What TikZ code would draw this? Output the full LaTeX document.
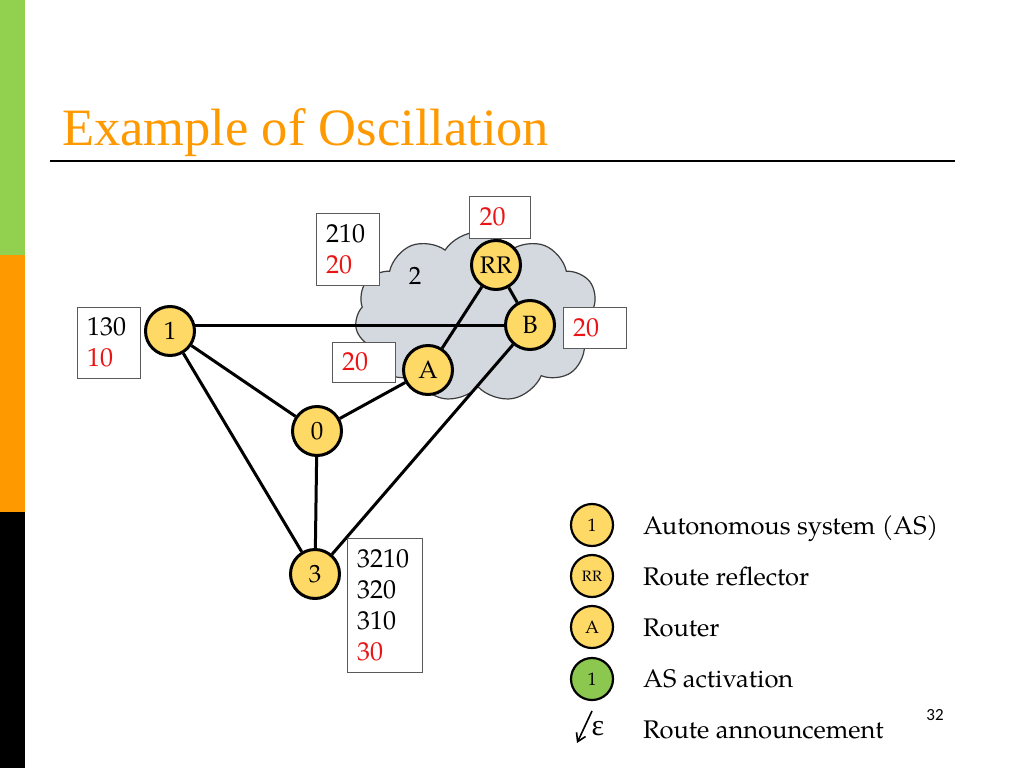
\documentclass[tikz,border=0pt]{standalone}
\usepackage{fontspec}
\setmainfont{TeX Gyre Pagella}
\newfontfamily\titlefont{Liberation Serif}
\newfontfamily\numfont{Carlito}
\usetikzlibrary{shapes.symbols,arrows.meta,backgrounds}
\definecolor{barGreen}{RGB}{146,208,80}
\definecolor{barOrange}{RGB}{255,153,0}
\definecolor{titleOrange}{RGB}{255,153,0}
\definecolor{nodeYellow}{RGB}{255,217,102}
\definecolor{actGreen}{RGB}{140,200,80}
\definecolor{cloudFill}{RGB}{212,217,224}
\definecolor{cloudLine}{RGB}{60,60,60}
\definecolor{boxLine}{RGB}{90,90,90}
\definecolor{numRed}{RGB}{235,20,20}
\tikzset{
  asnode/.style={circle, draw=black, line width=3pt, fill=nodeYellow, minimum size=49pt, inner sep=0pt, font=\fontsize{25}{25}\selectfont},
  legnode/.style={circle, draw=black, line width=2.2pt, fill=nodeYellow, minimum size=42pt, inner sep=0pt, font=\fontsize{18}{18}\selectfont},
  link/.style={line width=3pt, draw=black},
  infobox/.style={draw=boxLine, line width=1pt, fill=white, align=left, inner xsep=10pt, inner ysep=0pt, font=\fontsize{26}{31}\selectfont},
  legtext/.style={anchor=base west, inner sep=0pt, font=\fontsize{25.5}{25.5}\selectfont}
}
\begin{document}
\begin{tikzpicture}[x=1pt,y=-1pt]
\useasboundingbox (0,0) rectangle (1024,768);
% nodes
\node[asnode] (n1) at (170,331) {1};
\node[asnode] (n0) at (317,431) {0};
\node[asnode] (n3) at (315,574) {3};
\node[asnode] (nA) at (428,370) {A};
\node[asnode, font=\fontsize{24}{24}\selectfont] (nRR) at (496,265) {RR};
\node[asnode] (nB) at (530,325) {B};
\begin{scope}[on background layer]
\fill[white] (0,0) rectangle (1024,768);
% side bar
\fill[barGreen] (0,0) rectangle (25,255);
\fill[barOrange] (0,255) rectangle (25,512);
\fill[black] (0,512) rectangle (25,768);
% cloud
\node[cloud, cloud puffs=11, cloud puff arc=115, aspect=1.4, draw=cloudLine, line width=1.2pt, fill=cloudFill, minimum width=246pt, minimum height=170pt, inner sep=0pt] (cloud) at (478,317) {};
\node[inner sep=0pt, font=\fontsize{25}{25}\selectfont] (as2) at (415,276) {2};
% links
\draw[link] (nB) -- (n1 |- nB);
\draw[link] (n1) -- (n0);
\draw[link] (n1) -- (n3);
\draw[link] (n0) -- (n3);
\draw[link] (n0) -- (nA);
\draw[link] (n3) -- (nB);
\draw[link] (nA) -- (nRR);
\draw[link] (nRR) -- (nB);
\end{scope}
% title
\node[anchor=base west, inner sep=0pt, text=titleOrange, font=\titlefont\fontsize{52.5}{52.5}\selectfont] (title) at (62,145) {Example of Oscillation};
\draw[line width=2.7pt] (50,161) -- (955,161);
% boxes
\node[infobox, text width=43pt, minimum height=71pt] (b1) at (108.5,342.5) {130\\\textcolor{numRed}{10}};
\node[infobox, text width=43pt, minimum height=72pt] (b2) at (347.5,249) {210\\\textcolor{numRed}{20}};
\node[infobox, text width=41pt, minimum height=42pt] (bRR) at (500,217) {\textcolor{numRed}{20}};
\node[infobox, text width=43pt, minimum height=40pt] (bA) at (363.5,362) {\textcolor{numRed}{20}};
\node[infobox, text width=43pt, minimum height=41pt] (bB) at (594.5,327.5) {\textcolor{numRed}{20}};
\node[infobox, text width=55pt, minimum height=134pt] (b3) at (384.5,605) {3210\\320\\310\\\textcolor{numRed}{30}};
% legend
\node[legnode] (l1) at (592,525) {1};
\node[legnode, font=\fontsize{15}{15}\selectfont] (lRR) at (592,576) {RR};
\node[legnode] (lA) at (592,627) {A};
\node[legnode, fill=actGreen] (lG) at (592,679) {1};
\node[legtext] (t1) at (643,534) {Autonomous system (AS)};
\node[legtext] (t2) at (643,585) {Route reflector};
\node[legtext] (t3) at (643,636) {Router};
\node[legtext] (t4) at (643,687) {AS activation};
\node[legtext] (t5) at (643,738) {Route announcement};
\coordinate (arS) at (592,711);
\coordinate (arE) at (577,743);
\draw[line width=1.6pt, -{Straight Barb[length=8pt,width=10pt]}] (arS) -- (arE);
\node[inner sep=0pt, font=\titlefont\fontsize{30}{30}\selectfont] (eps) at (598,729) {ε};
\node[inner sep=0pt, font=\numfont\fontsize{17}{17}\selectfont] (pg) at (935,715) {32};
\end{tikzpicture}
\end{document}
